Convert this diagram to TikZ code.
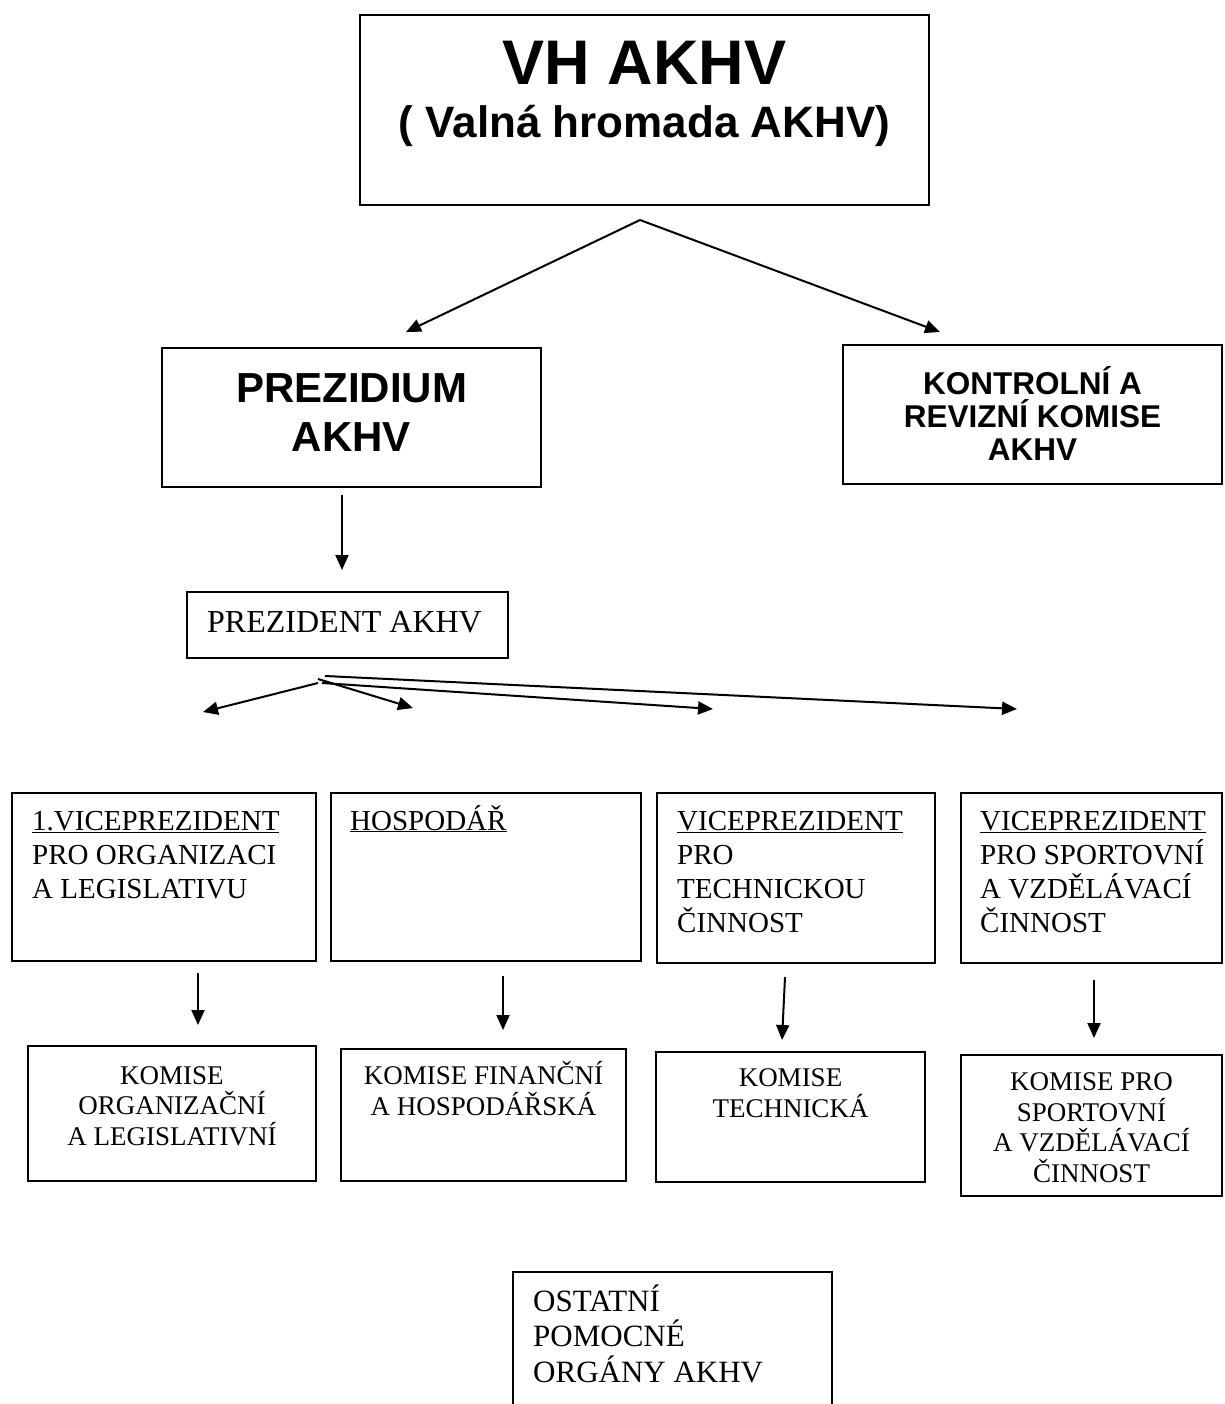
\documentclass[tikz,border=0pt]{standalone}
\usepackage{fontspec}
\setmainfont{Liberation Serif}
\newfontfamily\sansfam{Liberation Sans}
\usetikzlibrary{arrows.meta}
\begin{document}
\begin{tikzpicture}[x=1pt,y=-1pt,
  box/.style={draw, line width=2.4pt, inner sep=0pt, outer sep=0pt},
  conn/.style={line width=2pt, -{Triangle[length=15pt,width=13pt]}},
  vhfont/.style={font=\sansfam\bfseries\fontsize{63}{70}\selectfont, inner sep=0pt},
  subfont/.style={font=\sansfam\bfseries\fontsize{44}{50}\selectfont, inner sep=0pt},
  prezfont/.style={font=\sansfam\bfseries\fontsize{42}{49}\selectfont, inner sep=0pt, align=center},
  kontrfont/.style={font=\sansfam\bfseries\fontsize{31.5}{33}\selectfont, inner sep=0pt, align=center},
  presfont/.style={font=\fontsize{32}{36}\selectfont, inner sep=0pt},
  vpfont/.style={font=\fontsize{29}{34}\selectfont, inner sep=0pt, align=left},
  komfont/.style={font=\fontsize{27}{30.5}\selectfont, inner sep=0pt, align=center},
  ostfont/.style={font=\fontsize{31}{35.5}\selectfont, inner sep=0pt, align=left}
]
\useasboundingbox (0,0) rectangle (1224,1404);

% boxes
\node[box, minimum width=569pt, minimum height=190pt] (vh) at (644.5,110) {};
\node[box, minimum width=379pt, minimum height=139pt] (prez) at (351.5,417.5) {};
\node[box, minimum width=379pt, minimum height=139pt] (kontr) at (1032.5,414.5) {};
\node[box, minimum width=321pt, minimum height=66pt] (pres) at (347.5,625) {};
\node[box, minimum width=304pt, minimum height=168pt] (b1) at (164,877) {};
\node[box, minimum width=310pt, minimum height=168pt] (b2) at (486,877) {};
\node[box, minimum width=278pt, minimum height=170pt] (b3) at (796,878) {};
\node[box, minimum width=261pt, minimum height=170pt] (b4) at (1091.5,878) {};
\node[box, minimum width=288pt, minimum height=135pt] (k1) at (172,1113.5) {};
\node[box, minimum width=285pt, minimum height=132pt] (k2) at (483.5,1115) {};
\node[box, minimum width=269pt, minimum height=130pt] (k3) at (790.5,1117) {};
\node[box, minimum width=261pt, minimum height=141pt] (k4) at (1091.5,1125.5) {};
\coordinate (ostbl) at (513,1410);
\coordinate (osttl) at (513,1272);
\coordinate (osttr) at (832,1272);
\coordinate (ostbr) at (832,1410);
\draw[line width=2.4pt] (ostbl) -- (osttl) -- (osttr) -- (ostbr);

% texts (base anchor = baseline of the last line)
\node[vhfont, anchor=base] (vht) at (644.5,85) {VH AKHV};
\node[subfont, anchor=base] (vhs) at (644.5,138) {( Valná hromada AKHV)};
\node[prezfont, anchor=base] (prezt) at (351.5,451) {PREZIDIUM\\AKHV};
\node[kontrfont, anchor=base] (kontrt) at (1032.5,460) {KONTROLNÍ A\\REVIZNÍ KOMISE\\AKHV};
\node[presfont, anchor=base west] (prest) at (207,632) {PREZIDENT AKHV};
\node[vpfont, anchor=base west] (b1t) at (32,898) {\underline{1.VICEPREZIDENT}\\PRO ORGANIZACI\\A LEGISLATIVU};
\node[vpfont, anchor=base west] (b2t) at (350,830) {\underline{HOSPODÁŘ}};
\node[vpfont, anchor=base west] (b3t) at (677,932) {\underline{VICEPREZIDENT}\\PRO\\TECHNICKOU\\ČINNOST};
\node[vpfont, anchor=base west] (b4t) at (980,932) {\underline{VICEPREZIDENT}\\PRO SPORTOVNÍ\\A VZDĚLÁVACÍ\\ČINNOST};
\node[komfont, anchor=base] (k1t) at (172,1145) {KOMISE\\ORGANIZAČNÍ\\A LEGISLATIVNÍ};
\node[komfont, anchor=base] (k2t) at (483.5,1115) {KOMISE FINANČNÍ\\A HOSPODÁŘSKÁ};
\node[komfont, anchor=base] (k3t) at (790.5,1117) {KOMISE\\TECHNICKÁ};
\node[komfont, anchor=base] (k4t) at (1091.5,1182) {KOMISE PRO\\SPORTOVNÍ\\A VZDĚLÁVACÍ\\ČINNOST};
\node[ostfont, anchor=base west] (ostt) at (533,1382) {OSTATNÍ\\POMOCNÉ\\ORGÁNY AKHV};

% connector end points
\coordinate (apex) at (640,220);
\coordinate (tipL) at (406,332);
\coordinate (tipR) at (940,332);
\coordinate (pz1) at (342,495);
\coordinate (pz2) at (342,570);
\coordinate (s1) at (318,683);
\coordinate (s2) at (318,679);
\coordinate (s3) at (322,683);
\coordinate (s4) at (325,676);
\coordinate (t1) at (203,712);
\coordinate (t2) at (413,708);
\coordinate (t3) at (713,709);
\coordinate (t4) at (1017,709);
\coordinate (d1a) at (198,973);
\coordinate (d1b) at (198,1025);
\coordinate (d2a) at (503,976);
\coordinate (d2b) at (503,1030);
\coordinate (d3a) at (785,977);
\coordinate (d3b) at (782,1040);
\coordinate (d4a) at (1094,980);
\coordinate (d4b) at (1094,1038);

% connectors
\draw[conn] (apex) -- (tipL);
\draw[conn] (apex) -- (tipR);
\draw[conn] (pz1) -- (pz2);
\draw[conn] (s1) -- (t1);
\draw[conn] (s2) -- (t2);
\draw[conn] (s3) -- (t3);
\draw[conn] (s4) -- (t4);
\draw[conn] (d1a) -- (d1b);
\draw[conn] (d2a) -- (d2b);
\draw[conn] (d3a) -- (d3b);
\draw[conn] (d4a) -- (d4b);
\end{tikzpicture}
\end{document}
